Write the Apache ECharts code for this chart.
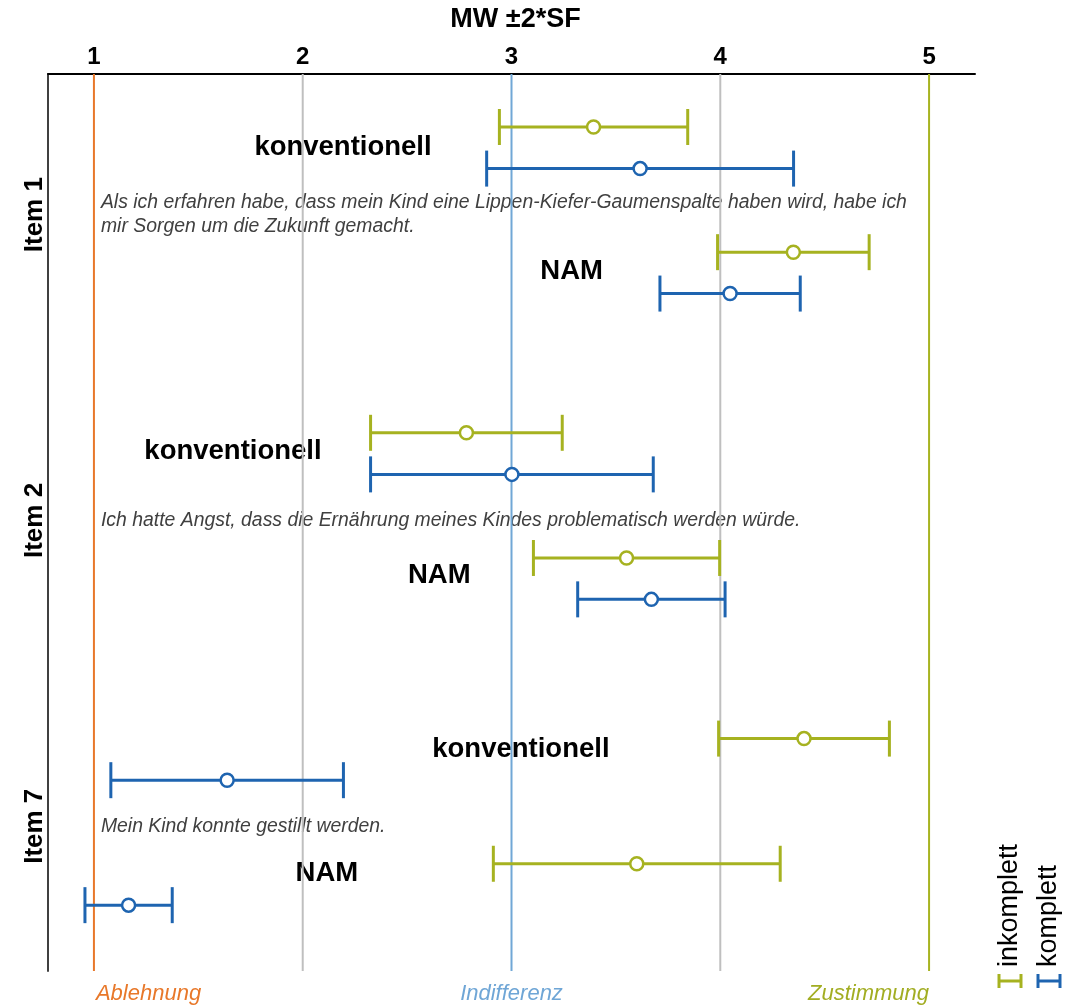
<!DOCTYPE html>
<html><head><meta charset="utf-8">
<script src="https://cdn.jsdelivr.net/npm/echarts@6/dist/echarts.min.js"></script>
<style>html,body{margin:0;padding:0;background:#fff}#c{width:1068px;height:1007px}</style>
</head><body><div id="c"></div><script>
// ---------- data ----------
const items = ['Item 1', 'Item 2', 'Item 7'];
const questions = [
  'Als ich erfahren habe, dass mein Kind eine Lippen-Kiefer-Gaumenspalte haben wird, habe ich\nmir Sorgen um die Zukunft gemacht.',
  'Ich hatte Angst, dass die Ernährung meines Kindes problematisch werden würde.',
  'Mein Kind konnte gestillt werden.'
];
const groups = ['konventionell', 'NAM'];
const seriesNames = ['inkomplett', 'komplett'];
const axisTitle = 'MW ±2*SF';
// MW per item: [konventionell, NAM]
const inkMW  = [[3.393, 4.350], [2.784, 3.551], [4.401, 3.600]];
const inkSF2 = [[0.451, 0.363], [0.459, 0.446], [0.409, 0.687]];
const kompMW  = [[3.616, 4.047], [3.002, 3.670], [1.638, 1.166]];
const kompSF2 = [[0.735, 0.336], [0.677, 0.353], [0.557, 0.209]];
const tickValues = [1, 2, 3, 4, 5];
const refLineValues = [1, 2, 3, 4, 5];
const scaleLabels = ['Ablehnung', 'Indifferenz', 'Zustimmung'];
const scaleLabelValues = [1, 3, 5];

// ---------- layout / style ----------
const FONT = 'Liberation Sans, Arial, sans-serif';
const GREEN = '#A6B220', BLUE = '#1E64B0';
const refColors = ['#E8782A', '#BFBFBF', '#71A7D6', '#BFBFBF', '#A7B321'];
const scaleColors = ['#E8782A', '#6FA6D6', '#A2AD22'];
const scaleAlign = ['left', 'center', 'right'];
const BLOCK = 15, YMAX = 44, XMIN = 0.78, XMAX = 5.22;
const rowOff = { ink: [2.6, 8.74], komp: [4.64, 10.77] };
const questionOff = 6.9;
// group label layout: [x value, y offset] per item, per group
const groupLabelPos = [
  [[2.193, 3.61], [3.288, 9.69]],
  [[1.666, 3.49], [2.654, 9.58]],
  [[3.045, 3.11], [2.116, 9.22]]
];

function buildBars(mw, sf2, off) {
  const out = [];
  items.forEach((it, i) => groups.forEach((g, k) => {
    const m = mw[i][k], e = sf2[i][k];
    out.push([m, m - e, m + e, i * BLOCK + off[k]]);
  }));
  return out;
}

function renderBar(params, api) {
  const yv = api.value(3);
  const pm = api.coord([api.value(0), yv]);
  const pl = api.coord([api.value(1), yv]);
  const ph = api.coord([api.value(2), yv]);
  const color = api.visual('color');
  const cap = 18, y = pm[1];
  const ls = { stroke: color, lineWidth: 3 };
  return { type: 'group', children: [
    { type: 'line', shape: { x1: pl[0], y1: y, x2: ph[0], y2: y }, style: ls },
    { type: 'line', shape: { x1: pl[0], y1: y - cap, x2: pl[0], y2: y + cap }, style: ls },
    { type: 'line', shape: { x1: ph[0], y1: y - cap, x2: ph[0], y2: y + cap }, style: ls },
    { type: 'circle', shape: { cx: pm[0], cy: y, r: 6.5 }, style: { fill: '#fff', stroke: color, lineWidth: 2.5 } }
  ]};
}

function renderRef(params, api) {
  const v = api.value(0);
  const a = api.coord([v, 0]), b = api.coord([v, YMAX]);
  return { type: 'line', shape: { x1: a[0], y1: a[1], x2: b[0], y2: b[1] },
    style: { stroke: refColors[params.dataIndex], lineWidth: 2 } };
}

const chart = echarts.init(document.getElementById('c'), null, { renderer: 'canvas' });
chart.setOption({
  animation: false,
  backgroundColor: '#fff',
  grid: { left: 48, right: 93, top: 74, bottom: 36, containLabel: false, outerBoundsMode: 'none' },
  xAxis: {
    type: 'value', position: 'top', min: XMIN, max: XMAX,
    axisLine: { show: true, onZero: false, lineStyle: { color: '#000', width: 2 } },
    axisTick: { show: false }, splitLine: { show: false },
    axisLabel: { customValues: tickValues, fontSize: 24, fontWeight: 'bold', color: '#000', margin: 5, fontFamily: FONT }
  },
  yAxis: {
    type: 'value', inverse: true, min: 0, max: YMAX,
    axisLine: { show: true, onZero: false, lineStyle: { color: '#404040', width: 2 } },
    axisTick: { show: false }, axisLabel: { show: false }, splitLine: { show: false }
  },
  series: [
    { type: 'custom', name: 'ref', z: 1, data: refLineValues.map(v => [v]), renderItem: renderRef, silent: true },
    { type: 'custom', name: seriesNames[0], z: 3, itemStyle: { color: GREEN }, clip: false,
      data: buildBars(inkMW, inkSF2, rowOff.ink), renderItem: renderBar },
    { type: 'custom', name: seriesNames[1], z: 3, itemStyle: { color: BLUE }, clip: false,
      data: buildBars(kompMW, kompSF2, rowOff.komp), renderItem: renderBar }
  ]
});

// ---------- texts positioned through the axes ----------
const px = (x, y) => chart.convertToPixel({ gridIndex: 0 }, [x, y]);
const g = [];
const pt = px((XMIN + XMAX) / 2, 0);
g.push({ type: 'text', x: pt[0] + 4, y: 20, style: { text: axisTitle, font: 'bold 27px ' + FONT,
  fill: '#000', align: 'center', verticalAlign: 'middle' } });
items.forEach((it, i) => {
  const base = i * BLOCK;
  const pq = px(1, base + questionOff);
  g.push({ type: 'text', x: pq[0] + 7, y: pq[1], style: { text: questions[i], font: 'italic 19.4px ' + FONT,
    fill: '#404040', align: 'left', verticalAlign: 'middle', lineHeight: 24 } });
  g.push({ type: 'text', x: 35, y: pq[1], rotation: Math.PI / 2,
    style: { text: it, font: 'bold 26px ' + FONT, fill: '#000', align: 'center', verticalAlign: 'middle' } });
  groups.forEach((gr, k) => {
    const p = px(groupLabelPos[i][k][0], base + groupLabelPos[i][k][1]);
    g.push({ type: 'text', x: p[0], y: p[1], style: { text: gr, font: 'bold 27.5px ' + FONT,
      fill: '#000', align: 'center', verticalAlign: 'middle' } });
  });
});
scaleLabels.forEach((s, i) => {
  const p = px(scaleLabelValues[i], YMAX);
  g.push({ type: 'text', x: p[0] + (scaleAlign[i] === 'left' ? 2 : 0), y: 994,
    style: { text: s, font: 'italic 22px ' + FONT, fill: scaleColors[i], align: scaleAlign[i], verticalAlign: 'middle' } });
});
// legend (rotated)
const legendX = [1010, 1049], legendColors = [GREEN, BLUE];
seriesNames.forEach((n, i) => {
  const cx = legendX[i];
  g.push({ type: 'text', x: cx, y: 967, rotation: Math.PI / 2,
    style: { text: n, font: '27px ' + FONT, fill: '#000', align: 'left', verticalAlign: 'middle' } });
  const ls = { stroke: legendColors[i], lineWidth: 3 };
  g.push({ type: 'line', shape: { x1: cx - 11, y1: 981, x2: cx + 11, y2: 981 }, style: ls });
  g.push({ type: 'line', shape: { x1: cx - 11, y1: 974, x2: cx - 11, y2: 988 }, style: ls });
  g.push({ type: 'line', shape: { x1: cx + 11, y1: 974, x2: cx + 11, y2: 988 }, style: ls });
});
chart.setOption({ graphic: { elements: g } });
</script></body></html>
